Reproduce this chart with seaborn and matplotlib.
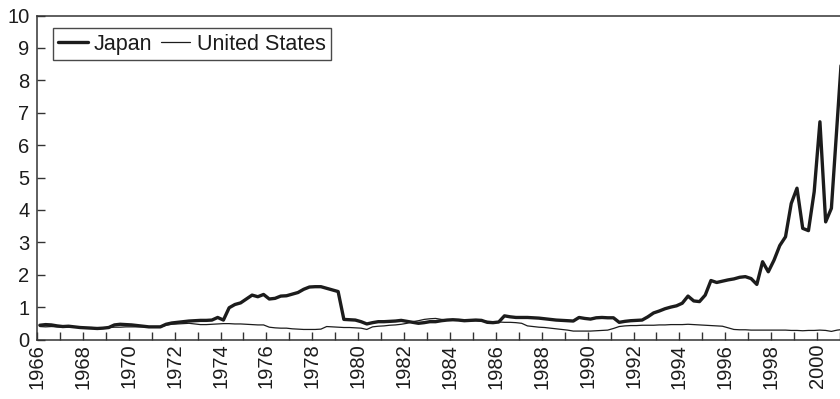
import numpy as np
import pandas as pd
import matplotlib
matplotlib.use("Agg")
import matplotlib.pyplot as plt
import seaborn as sns

# quarterly observations, 1966Q1 .. 2001Q1 (plotted at mid-quarter)
start_year = 1966
japan = [
    0.44, 0.46, 0.45, 0.42,  # 1966
    0.40, 0.41, 0.39, 0.37,  # 1967
    0.36, 0.35, 0.34, 0.35,  # 1968
    0.37, 0.45, 0.47, 0.46,  # 1969
    0.45, 0.43, 0.41, 0.39,  # 1970
    0.39, 0.39, 0.47, 0.51,  # 1971
    0.53, 0.55, 0.57, 0.58,  # 1972
    0.59, 0.59, 0.60, 0.68,  # 1973
    0.60, 0.98, 1.08, 1.13,  # 1974
    1.25, 1.37, 1.32, 1.39,  # 1975
    1.25, 1.27, 1.34, 1.35,  # 1976
    1.40, 1.45, 1.55, 1.62,  # 1977
    1.63, 1.63, 1.58, 1.53,  # 1978
    1.48, 0.62, 0.61, 0.60,  # 1979
    0.55, 0.48, 0.52, 0.55,  # 1980
    0.55, 0.56, 0.57, 0.59,  # 1981
    0.56, 0.53, 0.50, 0.52,  # 1982
    0.55, 0.55, 0.58, 0.60,  # 1983
    0.61, 0.60, 0.58, 0.59,  # 1984
    0.60, 0.59, 0.53, 0.52,  # 1985
    0.54, 0.73, 0.70, 0.68,  # 1986
    0.68, 0.68, 0.67, 0.66,  # 1987
    0.64, 0.62, 0.60, 0.59,  # 1988
    0.58, 0.57, 0.68, 0.65,  # 1989
    0.63, 0.67, 0.68, 0.67,  # 1990
    0.67, 0.53, 0.56, 0.58,  # 1991
    0.59, 0.60, 0.70, 0.82,  # 1992
    0.88, 0.95, 1.00, 1.04,  # 1993
    1.12, 1.34, 1.19, 1.17,  # 1994
    1.37, 1.82, 1.76, 1.80,  # 1995
    1.84, 1.87, 1.92, 1.94,  # 1996
    1.88, 1.70, 2.40, 2.09,  # 1997
    2.45, 2.90, 3.17, 4.20,  # 1998
    4.67, 3.43, 3.36, 4.56,  # 1999
    6.72, 3.63, 4.05, 6.70,  # 2000
    9.30,                    # 2001
]
united_states = [
    0.40, 0.39, 0.40, 0.39,  # 1966
    0.38, 0.38, 0.38, 0.37,  # 1967
    0.37, 0.37, 0.36, 0.36,  # 1968
    0.37, 0.38, 0.38, 0.39,  # 1969
    0.39, 0.39, 0.39, 0.38,  # 1970
    0.38, 0.38, 0.44, 0.47,  # 1971
    0.48, 0.49, 0.50, 0.48,  # 1972
    0.46, 0.46, 0.47, 0.48,  # 1973
    0.49, 0.49, 0.48, 0.48,  # 1974
    0.47, 0.46, 0.45, 0.45,  # 1975
    0.38, 0.36, 0.35, 0.35,  # 1976
    0.33, 0.32, 0.31, 0.31,  # 1977
    0.31, 0.32, 0.40, 0.39,  # 1978
    0.38, 0.37, 0.37, 0.36,  # 1979
    0.35, 0.31, 0.39, 0.41,  # 1980
    0.42, 0.44, 0.45, 0.47,  # 1981
    0.50, 0.55, 0.58, 0.62,  # 1982
    0.64, 0.65, 0.62, 0.60,  # 1983
    0.60, 0.59, 0.58, 0.58,  # 1984
    0.58, 0.57, 0.56, 0.55,  # 1985
    0.54, 0.53, 0.53, 0.52,  # 1986
    0.50, 0.42, 0.40, 0.38,  # 1987
    0.37, 0.35, 0.33, 0.31,  # 1988
    0.29, 0.26, 0.26, 0.26,  # 1989
    0.26, 0.27, 0.28, 0.29,  # 1990
    0.34, 0.40, 0.42, 0.43,  # 1991
    0.43, 0.44, 0.44, 0.44,  # 1992
    0.45, 0.45, 0.46, 0.46,  # 1993
    0.46, 0.47, 0.46, 0.45,  # 1994
    0.44, 0.43, 0.42, 0.41,  # 1995
    0.36, 0.31, 0.30, 0.30,  # 1996
    0.29, 0.29, 0.29, 0.29,  # 1997
    0.29, 0.29, 0.29, 0.28,  # 1998
    0.28, 0.27, 0.28, 0.28,  # 1999
    0.29, 0.28, 0.25, 0.29,  # 2000
    0.31,                    # 2001
]
year_ticks = list(range(1966, 2002))
year_labels = [str(y) if y % 2 == 0 else "" for y in year_ticks]

t = start_year + 0.125 + 0.25 * np.arange(len(japan))
df = pd.DataFrame({"t": t, "Japan": japan, "United States": united_states})

sns.set_style("ticks")
plt.rcParams["font.family"] = ["Liberation Sans", "DejaVu Sans"]

fig = plt.figure(figsize=(8.4, 3.99), dpi=100)
ax = fig.add_axes([37 / 840, 1 - 339.5 / 399, 803 / 840, 324 / 399])

ink = "#1c1c1c"
sns.lineplot(data=df, x="t", y="Japan", ax=ax, color=ink, lw=2.4, label="Japan")
sns.lineplot(data=df, x="t", y="United States", ax=ax, color=ink, lw=0.9,
             label="United States")

ax.set_xlim(1966, 2001)
ax.set_ylim(0, 10)
ax.set_xticks(year_ticks)
ax.set_xticklabels(year_labels, rotation=90)
ax.set_yticks(range(0, 11))
ax.set_xlabel("")
ax.set_ylabel("")
ax.tick_params(axis="both", direction="in", length=6, width=1, color="#333333",
               labelsize=14.5, labelcolor=ink)
ax.tick_params(axis="x", pad=3)
ax.tick_params(axis="y", pad=5.5)
for side in ["left", "bottom", "top"]:
    ax.spines[side].set_color("#333333")
    ax.spines[side].set_linewidth(1.1)
ax.spines["right"].set_visible(False)

leg = ax.legend(loc="upper left", bbox_to_anchor=(0.02, 0.96), borderaxespad=0,
                ncol=2, fontsize=15.5, frameon=True, fancybox=False,
                handlelength=1.35, handletextpad=0.3, columnspacing=0.4,
                borderpad=0.25)
leg.get_frame().set_edgecolor(ink)
leg.get_frame().set_linewidth(1)
for txt in leg.get_texts():
    txt.set_color(ink)

fig.savefig("out.png", dpi=100)
